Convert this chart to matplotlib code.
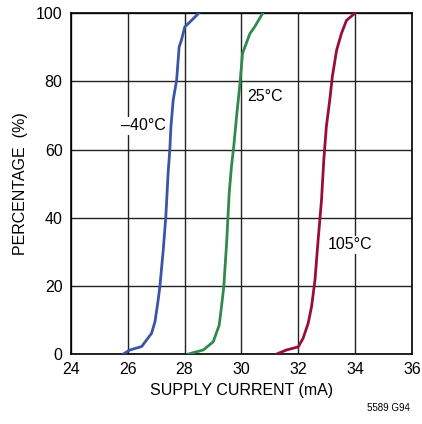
import matplotlib
matplotlib.use("Agg")
import matplotlib.pyplot as plt
from matplotlib import font_manager

names = {f.name for f in font_manager.fontManager.ttflist}
fam = "Liberation Sans Narrow" if "Liberation Sans Narrow" in names else "Liberation Sans"
plt.rcParams['font.family'] = [fam, 'DejaVu Sans']

cur_m40 = [25.84, 26.08, 26.49, 26.84, 26.96, 27.07, 27.13, 27.25, 27.34, 27.42, 27.48, 27.52, 27.60, 27.72, 27.81, 27.89, 28.01, 28.25, 28.50]
pct_m40 = [0, 1.2, 2.2, 6.1, 9.5, 15.8, 19.7, 30.5, 40.2, 52.9, 59.8, 66.6, 74.5, 80.3, 90.1, 92.1, 96.0, 97.9, 100]

cur_25 = [28.13, 28.66, 29.01, 29.22, 29.30, 29.38, 29.48, 29.57, 29.65, 29.73, 29.83, 29.95, 30.04, 30.30, 30.47, 30.75]
pct_25 = [0, 1.2, 3.6, 8.5, 13.9, 19.7, 32.5, 47.1, 54.9, 60.8, 69.6, 79.4, 88.2, 94.0, 96.0, 100]

cur_105 = [31.24, 31.59, 32.00, 32.17, 32.35, 32.47, 32.59, 32.70, 32.82, 32.90, 32.99, 33.11, 33.20, 33.35, 33.52, 33.70, 34.00]
pct_105 = [0, 1.2, 2.1, 4.6, 9.0, 13.9, 21.7, 33.4, 45.2, 56.9, 66.7, 74.5, 81.3, 89.1, 94.0, 97.9, 100]

x_ticks = [24, 26, 28, 30, 32, 34, 36]
y_ticks = [0, 20, 40, 60, 80, 100]

fig = plt.figure(figsize=(4.22, 4.24), dpi=100)
ax = fig.add_axes([0.168, 0.165, 0.808, 0.804])

ax.set_xlim(24, 36)
ax.set_ylim(0, 100)
ax.set_xticks(x_ticks)
ax.set_yticks(y_ticks)
ax.grid(True, color='#222222', linewidth=1.0)
ax.set_axisbelow(True)
for s in ax.spines.values():
    s.set_color('black')
    s.set_linewidth(1.2)
ax.tick_params(length=0, labelsize=11.5, pad=6)

ax.plot(cur_m40, pct_m40, color='#3a55a8', lw=2.0, zorder=3)
ax.plot(cur_25, pct_25, color='#2f8a4c', lw=2.0, zorder=3)
ax.plot(cur_105, pct_105, color='#9a0c3a', lw=2.0, zorder=3)

bb = dict(facecolor='white', edgecolor='none', pad=1)
ax.text(26.55, 67, '–40°C', fontsize=11.5, ha='center', va='center', bbox=bb, zorder=4)
ax.text(30.2, 75.5, '25°C', fontsize=11.5, ha='left', va='center', bbox=bb, zorder=4)
ax.text(33.05, 32, '105°C', fontsize=11.5, ha='left', va='center', bbox=bb, zorder=4)

ax.set_xlabel('SUPPLY CURRENT (mA)', fontsize=11.5, labelpad=4)
ax.set_ylabel('PERCENTAGE  (%)', fontsize=11.5, labelpad=6)
fig.text(0.972, 0.025, '5589 G94', fontsize=7, ha='right', va='bottom')

fig.savefig('out.png', dpi=100)
